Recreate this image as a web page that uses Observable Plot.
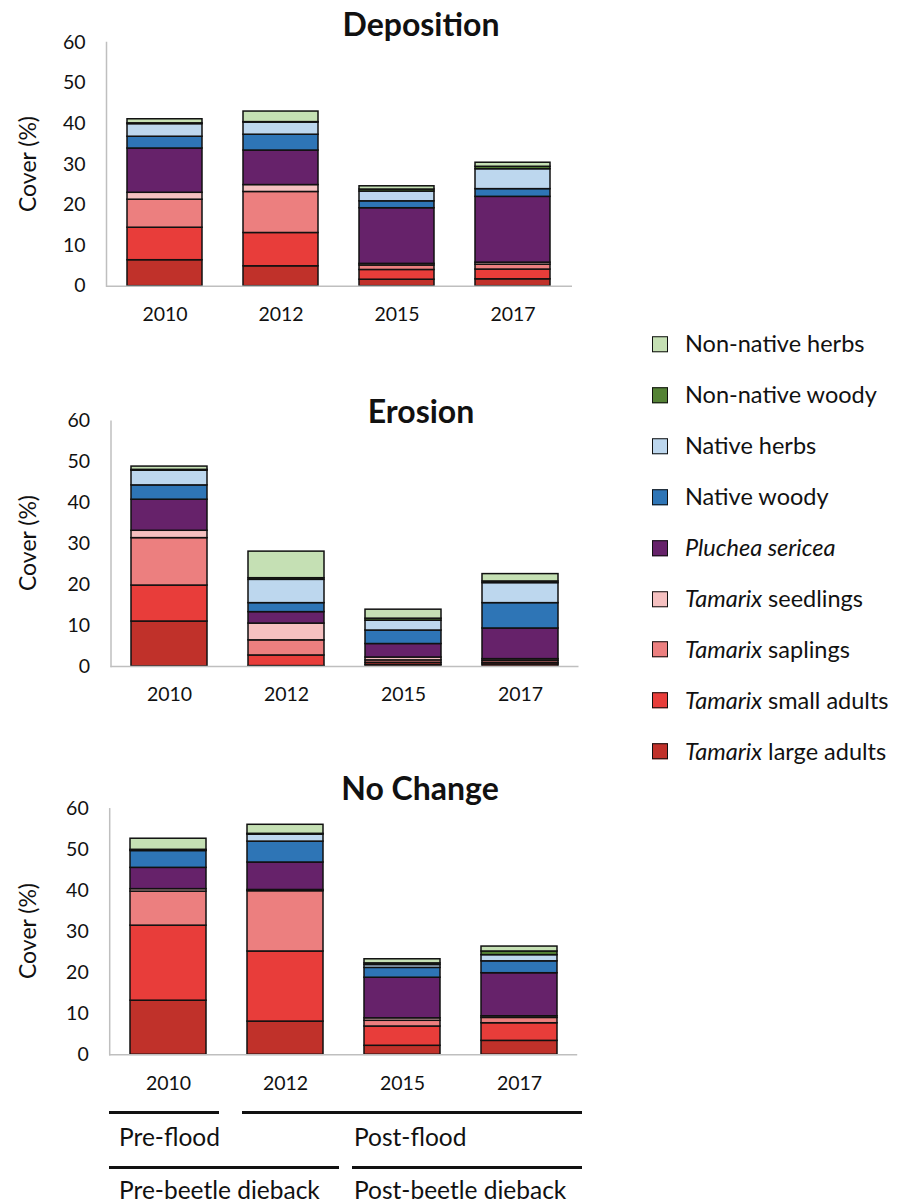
<!DOCTYPE html>
<html>
<head>
<meta charset="utf-8">
<script src="https://cdn.jsdelivr.net/npm/d3@7"></script>
<script src="https://cdn.jsdelivr.net/npm/@observablehq/plot@0.6"></script>
<style>
  body { margin: 0; background: #fff; font-family: Lato, "Open Sans", sans-serif; color: #111; }
  #wrap { position: relative; width: 912px; height: 1203px; overflow: hidden; background: #fff; }
  .panel { position: absolute; left: 0; }
  .title { position: absolute; font-weight: 700; font-size: 32px; line-height: 1; transform: translate(-50%, -50%); white-space: nowrap; }
  .ytitle { position: absolute; font-size: 23px; line-height: 1; white-space: nowrap; transform: translate(-50%, -50%) rotate(-90deg); }
  .legend-item { position: absolute; display: flex; align-items: center; font-size: 23.5px; line-height: 1; white-space: nowrap; transform: translateY(-50%); }
  .swatch { width: 14px; height: 14px; border: 1.5px solid #111; margin-right: 17px; flex: none; }
  .period-line { position: absolute; height: 3px; background: #111; }
  .period-text { position: absolute; font-size: 24.5px; line-height: 1; transform: translateY(-50%); white-space: nowrap; }
</style>
</head>
<body>
<div id="wrap"></div>
<script>
// Survey years and y-axis ticks
const years = ["2010", "2012", "2015", "2017"];
const yTicks = [0, 10, 20, 30, 40, 50, 60];

// Cover groups, listed top of stack first (legend order)
const groups = [
  "Non-native herbs",
  "Non-native woody",
  "Native herbs",
  "Native woody",
  "Pluchea sericea",
  "Tamarix seedlings",
  "Tamarix saplings",
  "Tamarix small adults",
  "Tamarix large adults"
];
const groupColors = [
  "#c5e0b4", "#548235", "#bdd7ee", "#2e75b6", "#66226a",
  "#f5c0c0", "#ec7f7f", "#e83d3a", "#c0312a"
];

// Cover (%) per group, by year (2010, 2012, 2015, 2017)
const deposition = {
  "Tamarix large adults": [6.4, 4.9, 1.6, 1.7],
  "Tamarix small adults": [8.0, 8.2, 2.4, 2.4],
  "Tamarix saplings":     [6.9, 10.1, 1.1, 1.2],
  "Tamarix seedlings":    [1.7, 1.7, 0.4, 0.5],
  "Pluchea sericea":      [10.9, 8.5, 13.7, 16.2],
  "Native woody":         [2.9, 3.9, 1.7, 1.9],
  "Native herbs":         [3.1, 3.0, 2.4, 4.9],
  "Non-native woody":     [0.2, 0.1, 0.5, 0.6],
  "Non-native herbs":     [1.0, 2.6, 0.8, 1.0]
};
const erosion = {
  "Tamarix large adults": [11.0, 0.1, 0.4, 0.5],
  "Tamarix small adults": [8.8, 2.6, 0.5, 0.4],
  "Tamarix saplings":     [11.6, 3.7, 0.6, 0.5],
  "Tamarix seedlings":    [1.8, 4.1, 0.7, 0.4],
  "Pluchea sericea":      [7.6, 2.8, 3.3, 7.5],
  "Native woody":         [3.5, 2.2, 3.3, 6.2],
  "Native herbs":         [3.6, 5.7, 2.4, 4.9],
  "Non-native woody":     [0.2, 0.4, 0.5, 0.4],
  "Non-native herbs":     [0.8, 6.5, 2.2, 1.8]
};
const noChange = {
  "Tamarix large adults": [13.2, 8.1, 2.2, 3.4],
  "Tamarix small adults": [18.3, 17.1, 4.7, 4.3],
  "Tamarix saplings":     [8.3, 14.7, 1.4, 1.3],
  "Tamarix seedlings":    [0.6, 0.3, 0.6, 0.4],
  "Pluchea sericea":      [5.2, 6.7, 9.9, 10.5],
  "Native woody":         [4.1, 5.1, 2.4, 2.9],
  "Native herbs":         [0.1, 1.7, 0.7, 1.5],
  "Non-native woody":     [0.2, 0.2, 0.4, 0.9],
  "Non-native herbs":     [2.7, 2.2, 1.0, 1.2]
};

const stackOrder = groups.slice().reverse(); // bottom of stack first

function toRows(table) {
  const rows = [];
  for (const g of stackOrder) {
    table[g].forEach((v, i) => rows.push({ year: years[i], group: g, value: v }));
  }
  return rows;
}

const wrap = document.getElementById("wrap");

const panels = [
  { title: "Deposition", table: deposition, top: 0,   mL: 106,   mR: 28,   mT: 42,   mB: 44.3, tx: 421, ty: 24 },
  { title: "Erosion",    table: erosion,    top: 380, mL: 110.5, mR: 21.5, mT: 40.7, mB: 44,   tx: 421, ty: 411 },
  { title: "No Change",  table: noChange,   top: 768, mL: 109.2, mR: 22.8, mT: 40.3, mB: 43.7, tx: 420, ty: 788 }
];

for (const p of panels) {
  const chart = Plot.plot({
    width: 600,
    height: 330,
    marginLeft: p.mL,
    marginRight: p.mR,
    marginTop: p.mT,
    marginBottom: p.mB,
    style: { fontFamily: "Lato, sans-serif", fontSize: "19px", color: "#111", background: "transparent", overflow: "visible" },
    x: { domain: years, paddingInner: 0.352, paddingOuter: 0.176, label: null },
    y: { domain: [0, 60], label: null },
    color: { domain: groups, range: groupColors },
    marks: [
      Plot.barY(toRows(p.table), {
        x: "year", y: "value", fill: "group", order: stackOrder,
        stroke: "#111", strokeWidth: 1.5
      }),
      Plot.frame({ anchor: "left", stroke: "#bfbfbf", strokeWidth: 1.5 }),
      Plot.ruleY([0], { stroke: "#bfbfbf", strokeWidth: 1.5 }),
      Plot.axisY({ ticks: yTicks, tickSize: 0, tickPadding: 21, label: null, fontSize: 19.5 }),
      Plot.axisX({ tickSize: 0, tickPadding: 21, label: null, fontSize: 19.5 })
    ]
  });
  chart.classList.add("panel");
  chart.style.top = p.top + "px";
  wrap.appendChild(chart);

  // panel title
  const t = document.createElement("div");
  t.className = "title";
  t.textContent = p.title;
  t.style.left = p.tx + "px";
  t.style.top = p.ty + "px";
  wrap.appendChild(t);

  // y-axis title, centred on the plot frame
  const yt = document.createElement("div");
  yt.className = "ytitle";
  yt.textContent = "Cover (%)";
  yt.style.left = "27px";
  yt.style.top = (p.top + p.mT + (330 - p.mT - p.mB) / 2) + "px";
  wrap.appendChild(yt);
}

// Legend
function legendLabel(name) {
  if (name === "Pluchea sericea") return "<i>Pluchea sericea</i>";
  if (name.startsWith("Tamarix ")) return "<i>Tamarix</i>" + name.slice(7);
  return name;
}
groups.forEach((g, i) => {
  const item = document.createElement("div");
  item.className = "legend-item";
  item.style.left = "652px";
  item.style.top = (344 + i * 50.95) + "px";
  item.innerHTML = `<div class="swatch" style="background:${groupColors[i]}"></div><span>${legendLabel(g)}</span>`;
  wrap.appendChild(item);
});

// Period annotations below the bottom panel
const periodRows = [
  { lineY: 1112, textY: 1137, spans: [
    { label: "Pre-flood",  x0: 109, x1: 219, tx: 119 },
    { label: "Post-flood", x0: 242, x1: 582, tx: 354 }
  ]},
  { lineY: 1167, textY: 1190, spans: [
    { label: "Pre-beetle dieback",  x0: 109, x1: 339, tx: 119 },
    { label: "Post-beetle dieback", x0: 352, x1: 582, tx: 354 }
  ]}
];
for (const row of periodRows) {
  for (const s of row.spans) {
    const line = document.createElement("div");
    line.className = "period-line";
    line.style.left = s.x0 + "px";
    line.style.width = (s.x1 - s.x0) + "px";
    line.style.top = (row.lineY - 1.5) + "px";
    wrap.appendChild(line);
    const txt = document.createElement("div");
    txt.className = "period-text";
    txt.textContent = s.label;
    txt.style.left = s.tx + "px";
    txt.style.top = row.textY + "px";
    wrap.appendChild(txt);
  }
}
</script>
</body>
</html>
